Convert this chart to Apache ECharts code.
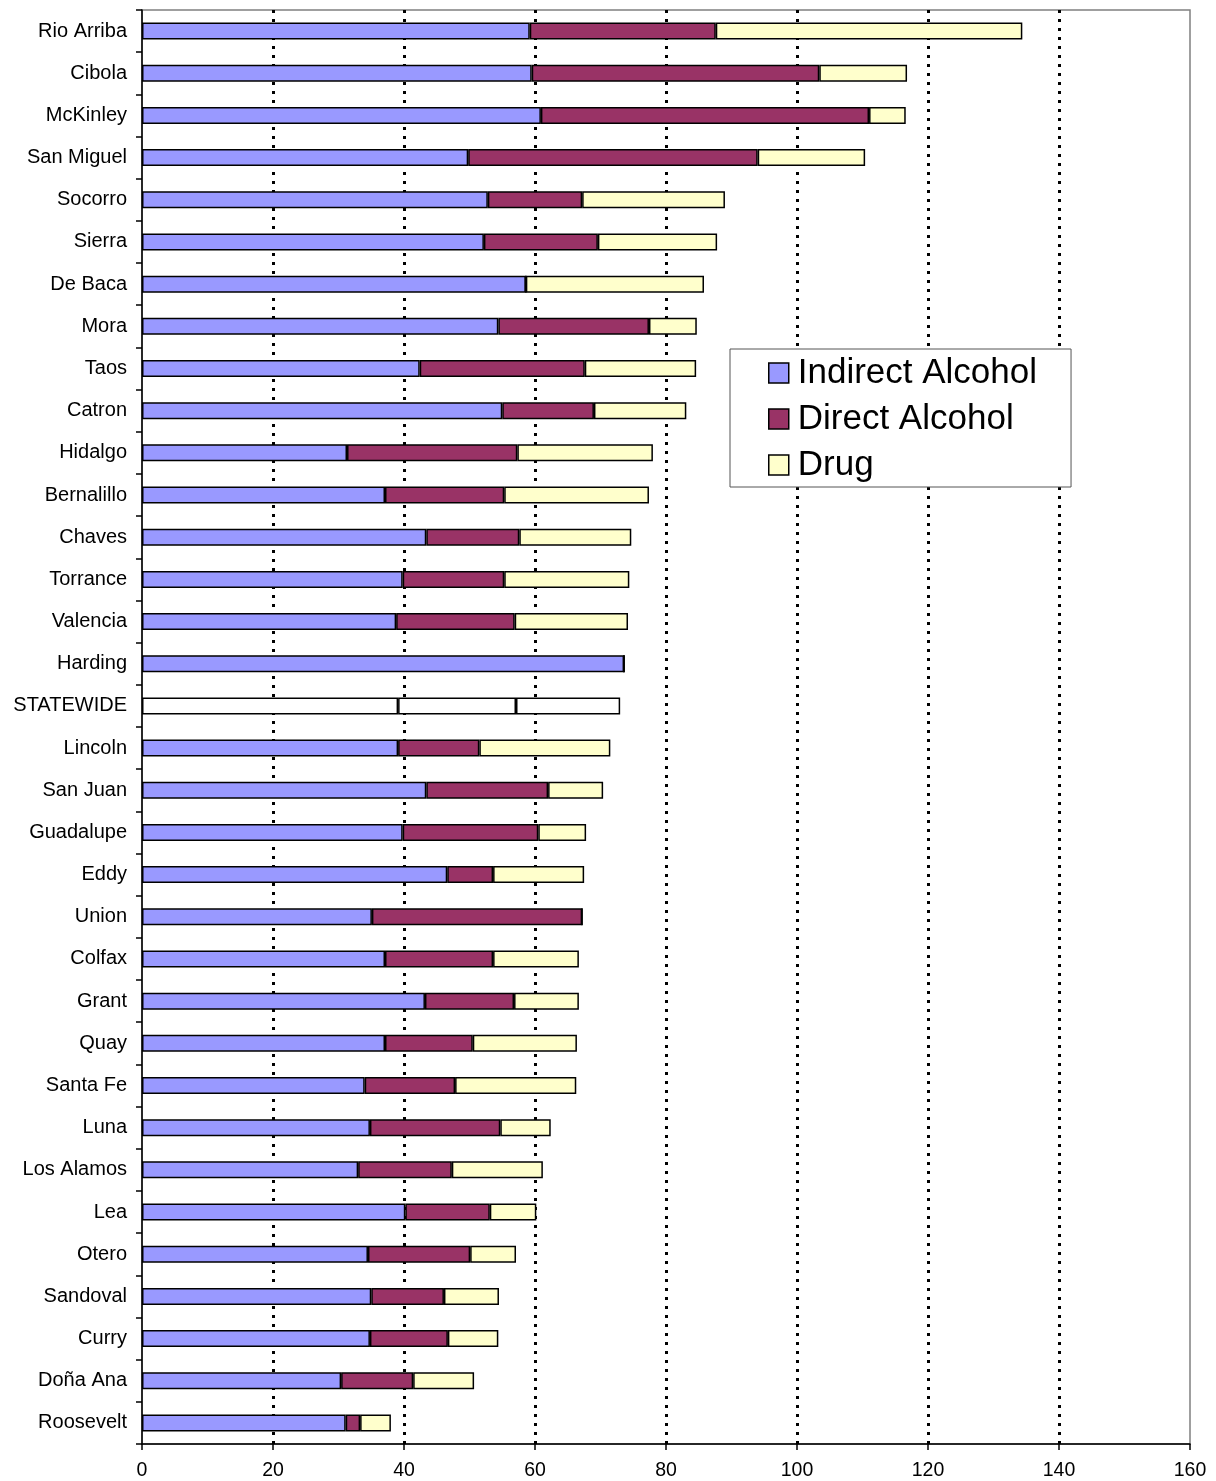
<!DOCTYPE html>
<html>
<head>
<meta charset="utf-8">
<script src="https://cdn.jsdelivr.net/npm/echarts@6/dist/echarts.min.js"></script>
<style>
html,body{margin:0;padding:0;background:#fff;}
#chart{width:1216px;height:1481px;}
</style>
</head>
<body>
<div id="chart"></div>
<script>
const categories = ["Rio Arriba","Cibola","McKinley","San Miguel","Socorro","Sierra","De Baca","Mora","Taos","Catron","Hidalgo","Bernalillo","Chaves","Torrance","Valencia","Harding","STATEWIDE","Lincoln","San Juan","Guadalupe","Eddy","Union","Colfax","Grant","Quay","Santa Fe","Luna","Los Alamos","Lea","Otero","Sandoval","Curry","Doña Ana","Roosevelt"];
const indirectAlcohol = [59.2,59.5,60.9,49.8,52.8,52.2,58.6,54.4,42.4,55.0,31.3,37.1,43.4,39.8,38.8,73.6,39.1,39.1,43.4,39.8,46.6,35.1,37.1,43.2,37.1,34.0,34.8,33.0,40.2,34.5,35.0,34.8,30.4,31.1];
const directAlcohol = [28.4,43.9,50.1,44.2,14.4,17.4,0,23.0,25.2,14.0,26.0,18.2,14.2,15.5,18.1,0,18.0,12.4,18.6,20.7,7.0,32.1,16.5,13.6,13.4,13.8,19.9,14.3,12.9,15.6,11.1,11.9,11.0,2.2];
const drug = [46.8,13.4,5.6,16.4,21.8,18.2,27.2,7.3,17.0,14.1,20.7,22.1,17.1,19.1,17.3,0,15.9,20.0,8.4,7.3,13.9,0,13.1,9.9,15.9,18.5,7.7,13.9,7.1,7.0,8.4,7.7,9.3,4.7];
const xTicks = [0,20,40,60,80,100,120,140,160];

const seriesNames = ["Indirect Alcohol","Direct Alcohol","Drug"];
const seriesColors = ["#9999ff","#993366","#ffffcc"];
const seriesData = [indirectAlcohol, directAlcohol, drug];

function build(arr){
  return arr.map((v,i)=>{
    if (categories[i]==="STATEWIDE") return {value:v, itemStyle:{color:"#ffffff"}};
    return v;
  });
}

const chart = echarts.init(document.getElementById('chart'));
chart.setOption({
  animation:false,
  backgroundColor:'#ffffff',
  textStyle:{fontFamily:'"Liberation Sans", Arial, sans-serif'},
  grid:{left:142,right:26,top:10,bottom:37,show:true,borderColor:'#808080',borderWidth:1.5},
  legend:{
    orient:'vertical',
    left:730, top:349,
    padding:[6,34,4,38],
    itemGap:10,
    itemWidth:20,itemHeight:20,
    icon:'rect',
    backgroundColor:'#ffffff',
    borderColor:'#555555',borderWidth:1,borderRadius:0,
    textStyle:{fontSize:35,color:'#000',lineHeight:36,padding:[0,0,0,4],fontFamily:'"Liberation Sans", Arial, sans-serif'},
    itemStyle:{borderColor:'#000',borderWidth:1.5},
    data:seriesNames
  },
  xAxis:{
    type:'value',min:0,max:160,interval:20,
    axisLine:{show:true,lineStyle:{color:'#000',width:1.5}},
    axisTick:{show:true,length:6,lineStyle:{color:'#000',width:1.5}},
    axisLabel:{fontSize:19.5,color:'#000',margin:17,
      formatter:(v)=> xTicks.includes(v) ? String(v) : ''},
    splitLine:{show:true,showMinLine:false,showMaxLine:false,lineStyle:{color:'#000',width:3,type:[3,6]}}
  },
  yAxis:{
    type:'category',data:categories,inverse:true,
    axisLine:{show:true,lineStyle:{color:'#000',width:1.5}},
    axisTick:{show:true,length:6,lineStyle:{color:'#000',width:1.5}},
    axisLabel:{fontSize:20,color:'#000',margin:15,padding:[2,0,0,0]},
    splitLine:{show:false}
  },
  series: seriesNames.map((n,k)=>({
    name:n,type:'bar',stack:'total',barWidth:17,
    itemStyle:{color:seriesColors[k],borderColor:'#000',borderWidth:1.5},
    data:build(seriesData[k])
  }))
});
</script>
</body>
</html>
